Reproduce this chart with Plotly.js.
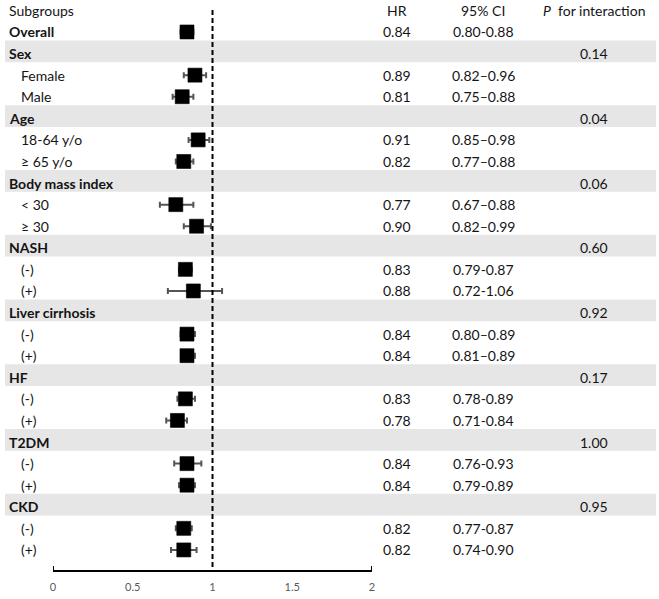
<!DOCTYPE html>
<html>
<head>
<meta charset="utf-8">
<script src="https://cdn.plot.ly/plotly-3.0.1.min.js"></script>
<style>
  html, body { margin: 0; padding: 0; background: #ffffff; }
  #chart { width: 659px; height: 599px; }
</style>
</head>
<body>
<div id="chart"></div>
<script>
// Subgroup rows, top to bottom (row 0 is the header line)
const rowLabels = ["Overall", "Sex", "Female", "Male", "Age", "18-64 y/o", "\u2265 65 y/o",
  "Body mass index", "< 30", "\u2265 30", "NASH", "(-)", "(+)", "Liver cirrhosis", "(-)", "(+)",
  "HF", "(-)", "(+)", "T2DM", "(-)", "(+)", "CKD", "(-)", "(+)"];
const rowType = ["overall", "group", "sub", "sub", "group", "sub", "sub", "group", "sub", "sub",
  "group", "sub", "sub", "group", "sub", "sub", "group", "sub", "sub", "group", "sub", "sub",
  "group", "sub", "sub"];

// Hazard ratios with 95% confidence limits
const hr     = [0.84, null, 0.89, 0.81, null, 0.91, 0.82, null, 0.77, 0.90, null, 0.83, 0.88, null, 0.84, 0.84, null, 0.83, 0.78, null, 0.84, 0.84, null, 0.82, 0.82];
const ciLow  = [0.80, null, 0.82, 0.75, null, 0.85, 0.77, null, 0.67, 0.82, null, 0.79, 0.72, null, 0.80, 0.81, null, 0.78, 0.71, null, 0.76, 0.79, null, 0.77, 0.74];
const ciHigh = [0.88, null, 0.96, 0.88, null, 0.98, 0.88, null, 0.88, 0.99, null, 0.87, 1.06, null, 0.89, 0.89, null, 0.89, 0.84, null, 0.93, 0.89, null, 0.87, 0.90];
const ciSep  = ["-", "", "\u2013", "\u2013", "", "\u2013", "\u2013", "", "\u2013", "\u2013", "", "-", "-", "", "\u2013", "\u2013", "", "-", "-", "", "-", "-", "", "-", "-"];

// P for interaction, given on each group header row
const pInteraction = [null, 0.14, null, null, 0.04, null, null, 0.06, null, null, 0.60, null, null, 0.92, null, null, 0.17, null, null, 1.00, null, null, 0.95, null, null];

// Column headers and x-axis ticks
const headers = { label: "Subgroups", hr: "HR", ci: "95% CI", p: "<i>P</i>  for interaction" };
const xTicks = [0, 0.5, 1, 1.5, 2];
const xTickText = ["0", "0.5", "1", "1.5", "2"];

const FONT = "Lato, 'Open Sans', sans-serif";
const TXT = "#141414";
const FS = 14;

// plot area spans x = 53..372 px, so paper units per pixel
const PW = 319;
const px = p => (p - 53) / PW;

const rows = rowLabels.map((_, i) => i + 1);
const pts = { x: [], y: [], plus: [], minus: [] };
hr.forEach((v, i) => {
  if (v === null) return;
  pts.x.push(v);
  pts.y.push(rows[i]);
  pts.plus.push(+(ciHigh[i] - v).toFixed(4));
  pts.minus.push(+(v - ciLow[i]).toFixed(4));
});

const trace = {
  type: "scatter",
  mode: "markers",
  x: pts.x,
  y: pts.y,
  marker: { symbol: "square", size: 14, color: "#000000", line: { width: 0.6, color: "#000000" } },
  error_x: {
    type: "data", symmetric: false,
    array: pts.plus, arrayminus: pts.minus,
    color: "#555555", thickness: 2, width: 3
  },
  hoverinfo: "skip",
  cliponaxis: false
};

const shapes = [];
const annotations = [];

// shaded bands behind the group header rows
rowType.forEach((t, i) => {
  if (t !== "group") return;
  shapes.push({
    type: "rect", layer: "below",
    xref: "paper", x0: px(5), x1: px(656),
    yref: "y", y0: rows[i] - 0.6, y1: rows[i] + 0.4,
    fillcolor: "#e6e6e6", line: { width: 0 }
  });
});

// reference line at HR = 1
shapes.push({
  type: "line", layer: "above",
  xref: "x", x0: 1, x1: 1,
  yref: "y", y0: -0.02, y1: 25.93,
  line: { color: "#000000", width: 2, dash: "5px,3px" }
});

// end caps of the x axis
[xTicks[0], xTicks[xTicks.length - 1]].forEach(v => {
  shapes.push({
    type: "line", xref: "x", x0: v, x1: v,
    yref: "paper", y0: 0, y1: 4 / 570,
    line: { color: "#000000", width: 2 }
  });
});

function txt(x, y, text, opts) {
  annotations.push(Object.assign({
    xref: "paper", yref: "y", x: x, y: y, text: text,
    showarrow: false, xanchor: "center", yanchor: "middle",
    font: { family: FONT, size: FS, color: TXT }
  }, opts || {}));
}

// header line
txt(px(7), 0, headers.label, { xanchor: "left" });
txt(px(397), 0, headers.hr);
txt(px(483), 0, headers.ci);
txt(px(594), 0, headers.p);

rowLabels.forEach((lab, i) => {
  const y = rows[i];
  const bold = rowType[i] !== "sub";
  txt(bold ? px(7) : px(19), y, bold ? "<b>" + lab + "</b>" : lab, { xanchor: "left" });
  if (hr[i] !== null) {
    txt(px(397), y, hr[i].toFixed(2));
    txt(px(483), y, ciLow[i].toFixed(2) + ciSep[i] + ciHigh[i].toFixed(2));
  }
  if (pInteraction[i] !== null) {
    txt(px(594), y, pInteraction[i].toFixed(2));
  }
});

const layout = {
  width: 659, height: 599,
  margin: { l: 53, r: 659 - 372, t: 0, b: 29, pad: 0 },
  paper_bgcolor: "#ffffff",
  plot_bgcolor: "rgba(0,0,0,0)",
  showlegend: false,
  xaxis: {
    range: [0, 2], fixedrange: true,
    showgrid: false, zeroline: false,
    showline: true, linecolor: "#000000", linewidth: 2,
    ticks: "", tickvals: xTicks, ticktext: xTickText,
    ticklabelstandoff: 6,
    tickfont: { family: FONT, size: 11, color: "#595959" }
  },
  yaxis: {
    range: [25.93, -0.482], fixedrange: true,
    showgrid: false, zeroline: false, showline: false,
    showticklabels: false, ticks: ""
  },
  shapes: shapes,
  annotations: annotations
};

Plotly.newPlot("chart", [trace], layout, { staticPlot: true, displayModeBar: false });
</script>
</body>
</html>
